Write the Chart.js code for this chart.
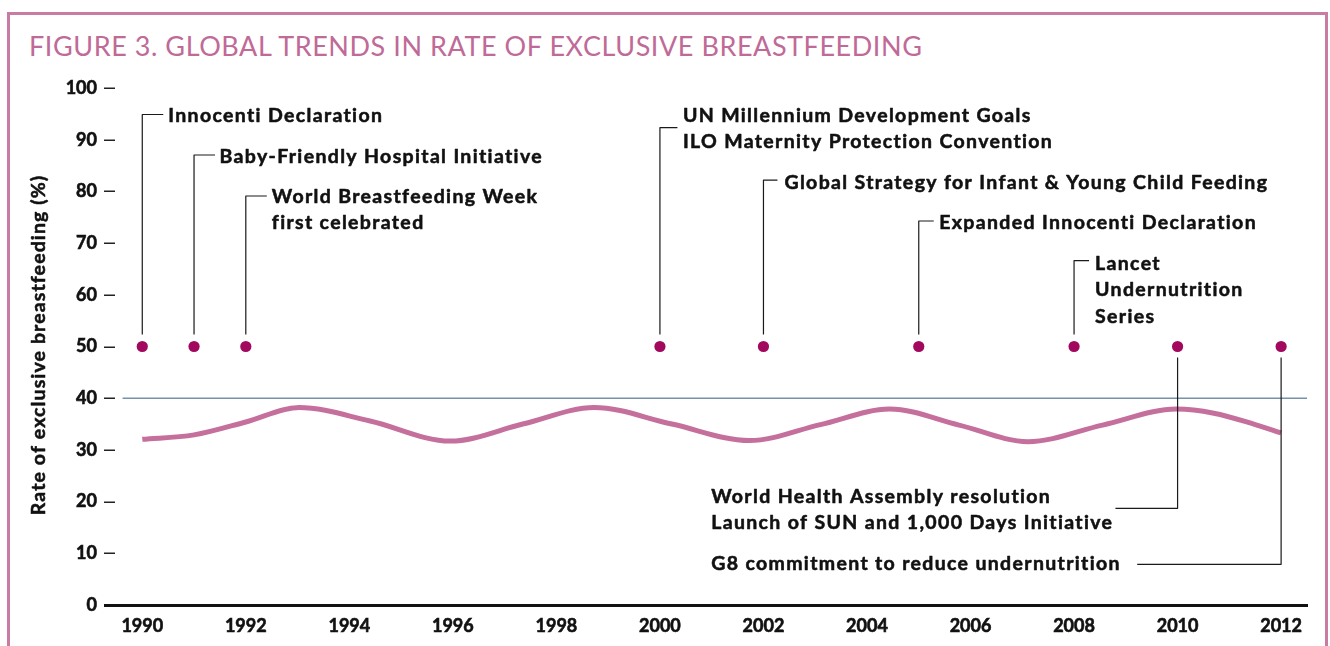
<!DOCTYPE html>
<html><head><meta charset="utf-8">
<script src="https://cdn.jsdelivr.net/npm/chart.js@4/dist/chart.umd.min.js"></script>
<style>
html,body{margin:0;padding:0;background:#fff;}
#wrap{position:relative;width:1330px;height:646px;overflow:hidden;background:#fff;}
#frame{position:absolute;left:7px;top:12px;width:1321px;height:700px;border:3px solid #c97ba3;box-sizing:border-box;}
#title{position:absolute;left:29px;top:29px;font-family:Lato,"Open Sans",sans-serif;font-size:27px;line-height:34px;letter-spacing:0.56px;color:#c06a98;white-space:nowrap;}
canvas{position:absolute;left:0;top:0;}
</style></head>
<body>
<div id="wrap">
  <div id="frame"></div>
  <div id="title">FIGURE 3. GLOBAL TRENDS IN RATE OF EXCLUSIVE BREASTFEEDING</div>
  <canvas id="c" width="1330" height="646"></canvas>
</div>
<script>
// ---- data ----
const years = [1990, 1991, 1992, 1993.03, 1994.4, 1995.95, 1997.35, 1998.73, 2000.23, 2001.73, 2003.1, 2004.44, 2005.78, 2007.11, 2008.55, 2009.98, 2010.7, 2011.5, 2012];
const rates = [32.05, 32.9, 35.4, 38.2, 35.6, 31.7, 35.0, 38.2, 35.0, 31.8, 34.9, 37.9, 34.8, 31.6, 34.8, 37.9, 37.1, 34.9, 33.3];
const benchmarkLevel = 40;
const benchmarkRange = [1989.62, 2012.5];
const eventYears = [1990, 1991, 1992, 2000, 2002, 2005, 2008, 2010, 2012];
const eventLevel = 50;
const eventLabels = [
  ["Innocenti Declaration"],
  ["Baby-Friendly Hospital Initiative"],
  ["World Breastfeeding Week", "first celebrated"],
  ["UN Millennium Development Goals", "ILO Maternity Protection Convention"],
  ["Global Strategy for Infant & Young Child Feeding"],
  ["Expanded Innocenti Declaration"],
  ["Lancet", "Undernutrition", "Series"],
  ["World Health Assembly resolution", "Launch of SUN and 1,000 Days Initiative"],
  ["G8 commitment to reduce undernutrition"]
];
const xTickLabels = [1990, 1992, 1994, 1996, 1998, 2000, 2002, 2004, 2006, 2008, 2010, 2012];
const yTickValues = [0, 10, 20, 30, 40, 50, 60, 70, 80, 90, 100];
const yAxisTitle = "Rate of exclusive breastfeeding (%)";

// ---- annotation layout (value units for y / x, px offsets for short stubs) ----
const eventLayout = [
  {side: 'up', elbow: 94.87, textY: 94.68, stub: 21, textDx: 26},
  {side: 'up', elbow: 87.04, textY: 86.85, stub: 21, textDx: 25.5},
  {side: 'up', elbow: 79.11, textY: 79.11, stub: 21, textDx: 26},
  {side: 'up', elbow: 92.32, textY: 94.78, stub: 17.5, textDx: 23},
  {side: 'up', elbow: 82.2, textY: 81.8, stub: 14, textDx: 21},
  {side: 'up', elbow: 74.27, textY: 74.08, stub: 15, textDx: 20.5},
  {side: 'up', elbow: 66.6, textY: 66.2, stub: 15, textDx: 21},
  {side: 'down', elbow: 18.7, lineTo: 2008.8, textX: 2000.99, textY: 21.08},
  {side: 'down', elbow: 7.87, lineTo: 2009.22, textX: 2000.99, textY: 8.18}
];
const FONT_FAMILY = 'Lato, "Open Sans", sans-serif';
const LABEL_FONT_SIZE = 19.5;
const LABEL_FONT = 'bold ' + LABEL_FONT_SIZE + 'px ' + FONT_FAMILY;
const LABEL_LINE_H = 26.5;
const LABEL_FIT = {text: "G8 commitment to reduce undernutrition", width: 410};
const YTITLE_FONT_SIZE = 19.5;
const YTITLE_FONT = 'bold ' + YTITLE_FONT_SIZE + 'px ' + FONT_FAMILY;
const YTITLE_WIDTH = 340;
const TEXT_COLOR = '#111';
const TEXT_STROKE = 0.55;

function fitSpacing(ctx, font, text, width) {
  ctx.save();
  ctx.font = font;
  if ('letterSpacing' in ctx) ctx.letterSpacing = '0px';
  const w = ctx.measureText(text).width;
  ctx.restore();
  return Math.max(0, (width - w) / text.length);
}

function heavyText(ctx, s, x, y) {
  ctx.fillText(s, x, y);
  ctx.strokeText(s, x, y);
}

const annotPlugin = {
  id: 'annot',
  afterDatasetsDraw(chart) {
    const {ctx, scales: {x, y}, chartArea} = chart;
    ctx.save();
    // y tick dashes
    ctx.strokeStyle = '#222';
    ctx.lineWidth = 1.5;
    yTickValues.forEach(v => {
      if (v === 0) return;
      const py = Math.round(y.getPixelForValue(v)) + 0.25;
      ctx.beginPath();
      ctx.moveTo(chartArea.left - 1, py);
      ctx.lineTo(chartArea.left + 10, py);
      ctx.stroke();
    });
    // y axis title
    const ySp = fitSpacing(ctx, YTITLE_FONT, yAxisTitle, YTITLE_WIDTH);
    ctx.save();
    ctx.font = YTITLE_FONT;
    if ('letterSpacing' in ctx) ctx.letterSpacing = ySp + 'px';
    ctx.fillStyle = TEXT_COLOR;
    ctx.strokeStyle = TEXT_COLOR;
    ctx.lineWidth = TEXT_STROKE;
    ctx.lineJoin = 'round';
    ctx.textAlign = 'center';
    ctx.textBaseline = 'alphabetic';
    ctx.translate(45, (chartArea.top + chartArea.bottom) / 2 - 1);
    ctx.rotate(-Math.PI / 2);
    heavyText(ctx, yAxisTitle, ySp / 2, 0);
    ctx.restore();

    // connectors + labels
    const sp = fitSpacing(ctx, LABEL_FONT, LABEL_FIT.text, LABEL_FIT.width);
    ctx.fillStyle = TEXT_COLOR;
    ctx.font = LABEL_FONT;
    if ('letterSpacing' in ctx) ctx.letterSpacing = sp + 'px';
    ctx.textAlign = 'left';
    ctx.textBaseline = 'alphabetic';
    ctx.lineJoin = 'round';
    const capHalf = LABEL_FONT_SIZE * 0.358;
    eventYears.forEach((yr, i) => {
      const L = eventLayout[i];
      const px = x.getPixelForValue(yr);
      const pyDot = y.getPixelForValue(eventLevel);
      const pyElbow = y.getPixelForValue(L.elbow);
      ctx.lineWidth = 1.2;
      ctx.strokeStyle = '#1a1a1a';
      ctx.beginPath();
      if (L.side === 'up') {
        ctx.moveTo(px, pyDot - 12);
        ctx.lineTo(px, pyElbow);
        ctx.lineTo(px + L.stub, pyElbow);
      } else {
        ctx.moveTo(px, pyDot + 11);
        ctx.lineTo(px, pyElbow);
        ctx.lineTo(x.getPixelForValue(L.lineTo), pyElbow);
      }
      ctx.stroke();
      const tx = L.side === 'up' ? px + L.textDx : x.getPixelForValue(L.textX);
      const ty0 = y.getPixelForValue(L.textY);
      ctx.lineWidth = TEXT_STROKE;
      ctx.strokeStyle = TEXT_COLOR;
      eventLabels[i].forEach((line, k) => {
        heavyText(ctx, line, tx, ty0 + k * LABEL_LINE_H + capHalf);
      });
    });
    ctx.restore();
  }
};

const tickFont = {family: FONT_FAMILY, size: 18, weight: 'bold'};

new Chart(document.getElementById('c'), {
  type: 'scatter',
  data: {
    datasets: [
      {
        type: 'line',
        data: benchmarkRange.map(v => ({x: v, y: benchmarkLevel})),
        borderColor: '#7592aa',
        borderWidth: 1.6,
        pointRadius: 0,
        order: 3
      },
      {
        type: 'line',
        data: years.map((v, i) => ({x: v, y: rates[i]})),
        borderColor: '#c5709c',
        borderWidth: 5,
        pointRadius: 0,
        cubicInterpolationMode: 'monotone',
        borderCapStyle: 'butt',
        order: 2
      },
      {
        data: eventYears.map(v => ({x: v, y: eventLevel})),
        backgroundColor: '#a1085e',
        borderWidth: 0,
        pointRadius: 5.6,
        order: 1
      }
    ]
  },
  options: {
    responsive: false,
    animation: false,
    events: [],
    layout: {padding: {top: 88, right: 23, left: 0, bottom: 0}},
    plugins: {legend: {display: false}, tooltip: {enabled: false}, title: {display: false}},
    scales: {
      x: {
        type: 'linear',
        min: 1989.28,
        max: 2012.5,
        afterBuildTicks: s => { s.ticks = xTickLabels.map(v => ({value: v})); },
        afterFit: s => { s.height = 41; },
        grid: {drawOnChartArea: false, drawTicks: false, color: 'rgba(0,0,0,0)'},
        border: {display: true, color: '#111', width: 3},
        ticks: {
          padding: 10,
          color: TEXT_COLOR,
          textStrokeColor: TEXT_COLOR,
          textStrokeWidth: 0.6,
          font: tickFont,
          callback: v => String(v),
          maxRotation: 0,
          autoSkip: false
        }
      },
      y: {
        min: 0,
        max: 100,
        afterBuildTicks: s => { s.ticks = yTickValues.map(v => ({value: v})); },
        afterFit: s => { s.width = 105; },
        grid: {drawOnChartArea: false, drawTicks: false, color: 'rgba(0,0,0,0)'},
        border: {display: false},
        ticks: {
          padding: 8,
          color: TEXT_COLOR,
          textStrokeColor: TEXT_COLOR,
          textStrokeWidth: 0.6,
          font: tickFont,
          callback: v => String(v)
        },
        title: {display: false}
      }
    }
  },
  plugins: [annotPlugin]
});
</script>
</body></html>
